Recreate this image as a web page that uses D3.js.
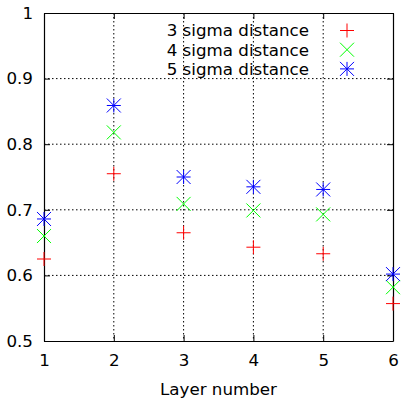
<!DOCTYPE html>
<html>
<head>
<meta charset="utf-8">
<script src="https://cdn.jsdelivr.net/npm/d3@7"></script>
<style>
  body { margin: 0; background: #fff; }
  text { font-family: "DejaVu Sans", sans-serif; fill: #000; }
</style>
</head>
<body>
<div id="chart"></div>
<script>
const layers = [1, 2, 3, 4, 5, 6];
const sigma3 = [0.625, 0.755, 0.665, 0.643, 0.633, 0.557];
const sigma4 = [0.660, 0.818, 0.709, 0.699, 0.693, 0.582];
const sigma5 = [0.686, 0.859, 0.750, 0.735, 0.731, 0.602];
const seriesNames = ["3 sigma distance", "4 sigma distance", "5 sigma distance"];
const xTicks = [1, 2, 3, 4, 5, 6];
const yTicks = [0.5, 0.6, 0.7, 0.8, 0.9, 1];

const width = 401, height = 398;
const margin = {top: 13, right: 8, bottom: 57, left: 44};
const w = width - margin.left - margin.right;
const h = height - margin.top - margin.bottom;
const fontSize = "16.7px";

const svg = d3.select("#chart").append("svg")
    .attr("width", width)
    .attr("height", height);

const g = svg.append("g")
    .attr("transform", `translate(${margin.left},${margin.top})`);

const x = d3.scaleLinear().domain([1, 6]).range([0, w]);
const y = d3.scaleLinear().domain([0.5, 1]).range([h, 0]);

// grid
g.append("g").selectAll("line")
    .data(xTicks.slice(1, -1))
    .enter().append("line")
    .attr("x1", d => x(d)).attr("x2", d => x(d))
    .attr("y1", 0).attr("y2", h)
    .attr("stroke", "#000")
    .attr("stroke-width", 1)
    .attr("stroke-dasharray", "1.5,2.5");

g.append("g").selectAll("line")
    .data(yTicks.slice(1, -1))
    .enter().append("line")
    .attr("y1", d => y(d)).attr("y2", d => y(d))
    .attr("x1", 0).attr("x2", w)
    .attr("stroke", "#000")
    .attr("stroke-width", 1)
    .attr("stroke-dasharray", "1.5,2.5");

// axes with inward ticks, mirrored
const fmt = d => d === 1 ? "1" : d3.format(".1f")(d);

const xAxis = g.append("g")
    .attr("transform", `translate(0,${h})`)
    .call(d3.axisBottom(x).tickValues(xTicks).tickFormat(d3.format("d")).tickSizeInner(-6).tickSizeOuter(0).tickPadding(13));
const xTop = g.append("g")
    .call(d3.axisTop(x).tickValues(xTicks).tickFormat("").tickSizeInner(-6).tickSizeOuter(0));
const yAxis = g.append("g")
    .call(d3.axisLeft(y).tickValues(yTicks).tickFormat(fmt).tickSizeInner(-6).tickSizeOuter(0).tickPadding(11));
const yRight = g.append("g")
    .attr("transform", `translate(${w},0)`)
    .call(d3.axisRight(y).tickValues(yTicks).tickFormat("").tickSizeInner(-6).tickSizeOuter(0));

[xAxis, xTop, yAxis, yRight].forEach(a => {
    a.selectAll("text").style("font-size", fontSize).style("font-family", "DejaVu Sans, sans-serif");
    a.select(".domain").attr("stroke", "#000").attr("stroke-width", 1.2);
});

g.append("text")
    .attr("x", w / 2)
    .attr("y", h + 54)
    .attr("text-anchor", "middle")
    .style("font-size", fontSize)
    .text("Layer number");

// markers
const r = 7;
const plus = (s, color) => {
    s.append("path")
        .attr("d", `M${-r},0H${r}M0,${-r}V${r}`)
        .attr("stroke", color).attr("fill", "none").attr("stroke-width", 1);
};
const cross = (s, color) => {
    s.append("path")
        .attr("d", `M${-r},${-r}L${r},${r}M${-r},${r}L${r},${-r}`)
        .attr("stroke", color).attr("fill", "none").attr("stroke-width", 1);
};
const star = (s, color) => {
    s.append("path")
        .attr("d", `M${-r},0H${r}M0,${-r}V${r}M${-r},${-r}L${r},${r}M${-r},${r}L${r},${-r}`)
        .attr("stroke", color).attr("fill", "none").attr("stroke-width", 1);
};

const series = [
    {name: seriesNames[0], values: sigma3, color: "#ff0000", mark: plus},
    {name: seriesNames[1], values: sigma4, color: "#00ff00", mark: cross},
    {name: seriesNames[2], values: sigma5, color: "#0000ff", mark: star}
];

series.forEach(s => {
    g.append("g").selectAll("g")
        .data(layers.map((l, i) => ({x: l, y: s.values[i]})))
        .enter().append("g")
        .attr("transform", d => `translate(${x(d.x)},${y(d.y)})`)
        .each(function() { s.mark(d3.select(this), s.color); });
});

// legend
const legend = svg.append("g");
series.forEach((s, i) => {
    const ly = 30.5 + i * 19.2;
    legend.append("text")
        .attr("x", 309)
        .attr("y", ly)
        .attr("dy", "0.35em")
        .attr("text-anchor", "end")
        .style("font-size", fontSize)
        .text(s.name);
    const m = legend.append("g").attr("transform", `translate(347,${ly})`);
    s.mark(m, s.color);
});
</script>
</body>
</html>
